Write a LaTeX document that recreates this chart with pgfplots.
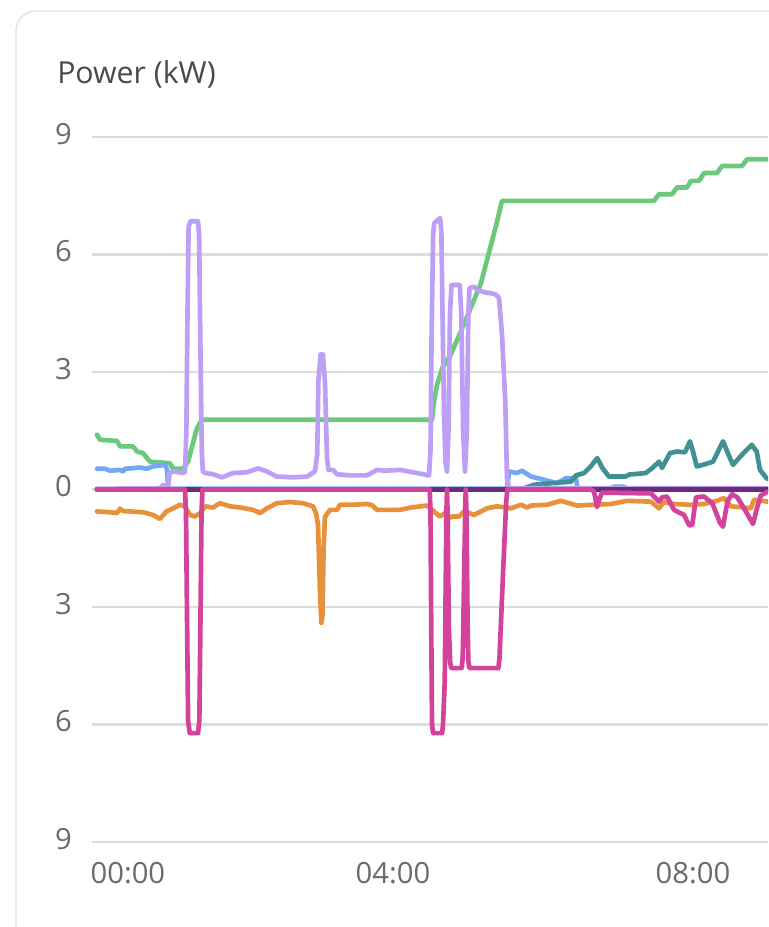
\documentclass[border=0pt]{standalone}
\usepackage{pgfplots}
\pgfplotsset{compat=1.18}
\usepackage{fontspec}
\setmainfont{Open Sans}
\definecolor{cgreen}{HTML}{6CC97C}
\definecolor{clav}{HTML}{BE9FF6}
\definecolor{cblue}{HTML}{74A7F4}
\definecolor{cteal}{HTML}{3F9194}
\definecolor{cmag}{HTML}{D4439B}
\definecolor{corange}{HTML}{E8913A}
\definecolor{cdark}{HTML}{6B2A7A}
\definecolor{gridc}{HTML}{DCDCDC}
\definecolor{cardc}{HTML}{E3E3E3}
\definecolor{tickc}{HTML}{6B6B6B}
\definecolor{titlec}{HTML}{4A4A4A}
\begin{document}
\begin{tikzpicture}
\useasboundingbox (0,0) rectangle (576pt,695.25pt);
\fill[white] (0,0) rectangle (576pt,695.25pt);
\draw[cardc, line width=1.1pt, rounded corners=15pt] (12pt,-5pt) -- (12pt,687pt) -- (600pt,687pt);
\node[anchor=base west, inner sep=0pt, text=titlec, font=\fontsize{22.7}{27}\selectfont] at (42.75pt,632.25pt) {Power (kW)};
\begin{axis}[
 at={(69pt,63.75pt)}, anchor=south west, scale only axis,
 width=507pt, height=528.75pt,
 xmin=-0.0133, xmax=9.0, ymin=-9, ymax=9,
 axis line style={draw=none}, tick style={draw=none},
 ymajorgrids, grid style={draw=gridc, line width=1.6pt},
 ytick={-9,-6,-3,0,3,6,9}, yticklabels={9,6,3,0,3,6,9},
 xtick={0,4,8}, xticklabels={{\makebox[0pt][l]{\hspace*{-1.8pt}00:00}},04:00,08:00},
 ticklabel style={font=\fontsize{21.9}{26}\selectfont, text=tickc, inner sep=0pt},
 yticklabel style={anchor=east, xshift=-15pt, yshift=2.5pt},
 xticklabel style={anchor=north, yshift=-15pt},
 every axis plot/.append style={line width=3.5pt, line join=round, line cap=round},
]
% green
\addplot[cgreen] coordinates {(0.053,1.40) (0.093,1.27) (0.32,1.24) (0.36,1.10) (0.533,1.10) (0.587,0.97) (0.667,0.93) (0.76,0.71) (1.027,0.67) (1.067,0.53) (1.2,0.53) (1.267,0.71) (1.387,1.57) (1.453,1.78) (4.52,1.78) (4.547,2.25) (4.587,2.67) (4.657,3.10) (4.769,3.44) (4.903,4.03) (5.036,4.63) (5.173,5.27) (5.307,6.25) (5.387,6.84) (5.453,7.37) (7.48,7.37) (7.547,7.54) (7.72,7.54) (7.787,7.71) (7.92,7.71) (7.973,7.88) (8.08,7.88) (8.147,8.08) (8.32,8.08) (8.387,8.26) (8.653,8.26) (8.72,8.43) (9.0,8.43)};
% blue
\addplot[cblue] coordinates {(0.053,0.53) (0.16,0.53) (0.227,0.48) (0.36,0.50) (0.40,0.46) (0.427,0.53) (0.627,0.56) (0.72,0.53) (0.80,0.59) (0.96,0.63) (0.985,0.53) (1.005,0.02) (5.52,0.02) (5.547,0.46) (5.653,0.42) (5.72,0.48) (5.84,0.33) (6.013,0.25) (6.187,0.16) (6.307,0.29) (6.44,0.29) (6.46,0.02) (6.907,0.03) (6.95,0.07) (7.08,0.07) (7.12,0.02) (9.0,0.02)};
% teal
\addplot[cteal] coordinates {(0.053,0.0) (5.70,0.0) (5.88,0.12) (6.107,0.16) (6.373,0.2) (6.44,0.36) (6.547,0.42) (6.636,0.59) (6.724,0.8) (6.791,0.55) (6.88,0.33) (7.10,0.33) (7.147,0.38) (7.369,0.42) (7.453,0.54) (7.547,0.71) (7.587,0.55) (7.693,0.93) (7.783,0.97) (7.893,0.95) (7.96,1.23) (8.0,0.97) (8.05,0.59) (8.133,0.63) (8.267,0.71) (8.40,1.23) (8.493,0.80) (8.533,0.63) (8.649,0.88) (8.783,1.14) (8.849,0.97) (8.893,0.50) (8.98,0.29) (9.0,0.27)};
% lavender
\addplot[clav] coordinates {(0.053,0.02) (0.893,0.03) (0.94,0.12) (0.98,0.03) (1.0,0.02) (1.02,0.42) (1.067,0.46) (1.2,0.42) (1.227,0.45) (1.245,1.5) (1.26,4.5) (1.275,6.7) (1.30,6.85) (1.40,6.85) (1.415,6.5) (1.43,4.0) (1.44,2.5) (1.45,1.0) (1.465,0.46) (1.493,0.42) (1.6,0.39) (1.72,0.31) (1.867,0.42) (2.053,0.44) (2.2,0.54) (2.32,0.46) (2.453,0.33) (2.667,0.31) (2.853,0.33) (2.96,0.46) (2.99,0.9) (3.005,2.76) (3.035,3.45) (3.065,3.45) (3.093,2.76) (3.12,0.8) (3.14,0.5) (3.2,0.5) (3.253,0.39) (3.427,0.36) (3.653,0.36) (3.787,0.5) (3.88,0.48) (4.093,0.5) (4.32,0.42) (4.48,0.36) (4.50,1.0) (4.515,4.0) (4.535,6.5) (4.55,6.8) (4.627,6.93) (4.645,6.6) (4.66,4.5) (4.68,2.0) (4.70,0.7) (4.72,0.46) (4.74,1.5) (4.76,4.5) (4.78,5.22) (4.89,5.22) (4.91,4.5) (4.935,1.5) (4.96,0.46) (4.985,1.5) (5.005,4.5) (5.02,5.14) (5.08,5.18) (5.12,5.1) (5.213,5.04) (5.36,4.99) (5.413,4.9) (5.453,3.96) (5.497,2.25) (5.52,0.29) (5.547,0.03) (9.0,0.03)};
% orange
\addplot[corange] coordinates {(0.053,-0.56) (0.227,-0.58) (0.32,-0.6) (0.36,-0.49) (0.40,-0.55) (0.667,-0.58) (0.80,-0.65) (0.893,-0.75) (0.98,-0.56) (1.067,-0.48) (1.16,-0.39) (1.227,-0.43) (1.293,-0.65) (1.36,-0.69) (1.427,-0.6) (1.493,-0.43) (1.6,-0.46) (1.693,-0.35) (1.827,-0.43) (1.96,-0.46) (2.133,-0.52) (2.227,-0.6) (2.32,-0.48) (2.453,-0.35) (2.627,-0.32) (2.8,-0.35) (2.933,-0.43) (2.973,-0.6) (3.0,-0.9) (3.025,-2.5) (3.045,-3.41) (3.06,-3.2) (3.075,-1.5) (3.093,-0.7) (3.16,-0.52) (3.253,-0.52) (3.293,-0.39) (3.467,-0.39) (3.653,-0.37) (3.72,-0.40) (3.787,-0.52) (3.88,-0.52) (4.093,-0.52) (4.24,-0.46) (4.453,-0.41) (4.52,-0.52) (4.627,-0.69) (4.693,-0.6) (4.747,-0.73) (4.787,-0.69) (4.88,-0.69) (4.947,-0.56) (5.013,-0.6) (5.08,-0.65) (5.173,-0.56) (5.253,-0.48) (5.387,-0.43) (5.573,-0.48) (5.707,-0.39) (5.787,-0.46) (5.84,-0.41) (6.053,-0.39) (6.24,-0.29) (6.453,-0.41) (6.68,-0.39) (6.907,-0.37) (7.12,-0.29) (7.44,-0.31) (7.547,-0.48) (7.613,-0.32) (7.747,-0.37) (7.973,-0.39) (8.147,-0.37) (8.32,-0.29) (8.413,-0.22) (8.507,-0.43) (8.68,-0.46) (8.773,-0.48) (8.813,-0.26) (9.0,-0.31)};
% dark purple
\addplot[cdark] coordinates {(0.053,0) (9.0,0)};
% magenta
\addplot[cmag] coordinates {(0.053,0) (1.227,0) (1.24,-0.6) (1.255,-3.5) (1.268,-5.9) (1.29,-6.22) (1.40,-6.22) (1.418,-5.9) (1.432,-3.5) (1.447,-0.6) (1.46,0) (4.49,0) (4.50,-0.6) (4.51,-3.5) (4.52,-6.0) (4.535,-6.22) (4.655,-6.22) (4.667,-6.0) (4.69,-4.9) (4.712,-0.6) (4.72,0) (4.728,-0.6) (4.745,-3.5) (4.762,-4.4) (4.775,-4.56) (4.915,-4.56) (4.93,-4.3) (4.95,-2.0) (4.965,-0.3) (4.97,0) (4.98,-0.6) (4.995,-3.5) (5.005,-4.4) (5.02,-4.56) (5.405,-4.56) (5.42,-4.3) (5.47,-2.0) (5.51,-0.3) (5.524,0) (6.64,0) (6.68,-0.05) (6.72,-0.45) (6.76,-0.2) (6.787,-0.08) (7.44,-0.1) (7.547,-0.31) (7.587,-0.2) (7.653,-0.18) (7.747,-0.52) (7.88,-0.65) (7.95,-0.92) (7.99,-0.9) (8.04,-0.2) (8.147,-0.18) (8.257,-0.35) (8.36,-0.85) (8.40,-0.95) (8.46,-0.3) (8.52,-0.12) (8.59,-0.2) (8.68,-0.48) (8.80,-0.88) (8.85,-0.5) (8.903,-0.15) (9.0,-0.05)};
\end{axis}
\end{tikzpicture}
\end{document}
